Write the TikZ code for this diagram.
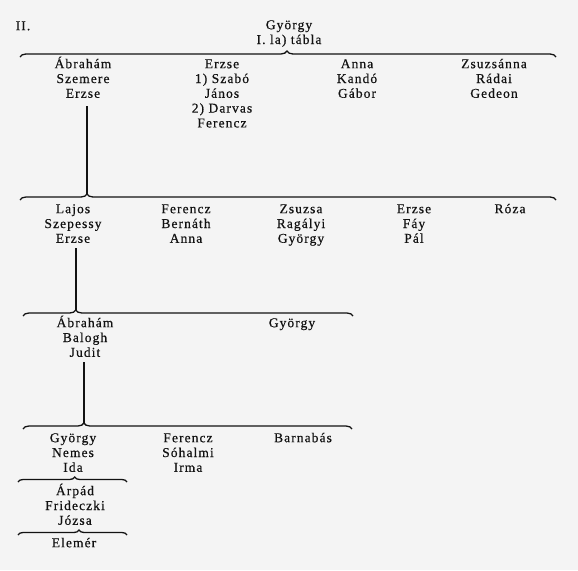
\documentclass[tikz,border=0pt]{standalone}
\usepackage{fontspec}
\setmainfont[LetterSpace=8,FakeBold=0.5]{Liberation Serif}
\usetikzlibrary{decorations.pathreplacing}
\definecolor{bg}{RGB}{244,244,244}
\definecolor{ink}{RGB}{18,18,18}
\newcommand\pfont{\fontsize{13.5}{14.8}\selectfont}
\newcommand\fl{\rule{0pt}{12.5pt}}
\begin{document}
\begin{tikzpicture}[x=1pt,y=-1pt,
  person/.style={anchor=north,inner sep=0pt,align=center,font=\pfont,text=ink},
  famline/.style={draw=ink,line width=1.3pt,decorate},
  stem/.style={draw=ink,line width=1.7pt}]
\fill[bg] (0,0) rectangle (578,570);
\useasboundingbox (0,0) rectangle (578,570);

% title
\node[person] (num) at (23,17.5) {\fl II.};
\node[person] (root) at (289,16.5) {\fl György\\I. la) tábla};

% brace 1
\coordinate (b1l) at (20,57);
\coordinate (b1r) at (556,57);
\draw[famline,decoration={brace,amplitude=6pt,aspect=0.498}] (b1l) -- (b1r);

% level 1
\node[person] (a1) at (83,55.5) {\fl Ábrahám\\Szemere\\Erzse};
\node[person] (e1) at (222,55.5) {\fl Erzse\\1) Szabó\\János\\2) Darvas\\Ferencz};
\node[person] (n1) at (357,55.5) {\fl Anna\\Kandó\\Gábor};
\node[person] (z1) at (494,55.5) {\fl Zsuzsánna\\Rádai\\Gedeon};

% brace 2
\coordinate (b2l) at (20,200);
\coordinate (b2r) at (556,200);
\coordinate (t2) at (87,194);
\draw[famline,decoration={brace,amplitude=6pt,aspect=0.125}] (b2l) -- (b2r);
\draw[stem] ([yshift=-8pt]a1.south -| t2) -- (t2);

% level 2
\node[person] (l2) at (73,200.5) {\fl Lajos\\Szepessy\\Erzse};
\node[person] (f2) at (186,200.5) {\fl Ferencz\\Bernáth\\Anna};
\node[person] (zs2) at (301,200.5) {\fl Zsuzsa\\Ragályi\\György};
\node[person] (er2) at (414,200.5) {\fl Erzse\\Fáy\\Pál};
\node[person] (r2) at (510,200.5) {\fl Róza};

% brace 3
\coordinate (b3l) at (23,316);
\coordinate (b3r) at (353,316);
\coordinate (t3) at (76,310);
\draw[famline,decoration={brace,amplitude=6pt,aspect=0.16}] (b3l) -- (b3r);
\draw[stem] ([yshift=-5pt]l2.south -| t3) -- (t3);

% level 3
\node[person] (a3) at (85,314.5) {\fl Ábrahám\\Balogh\\Judit};
\node[person] (g3) at (292,314.5) {\fl György};

% brace 4
\coordinate (b4l) at (23,429);
\coordinate (b4r) at (352,429);
\coordinate (t4) at (84,423);
\draw[famline,decoration={brace,amplitude=6pt,aspect=0.185}] (b4l) -- (b4r);
\draw[stem] ([yshift=-5pt]a3.south -| t4) -- (t4);

% level 4
\node[person] (g4) at (73,429.5) {\fl György\\Nemes\\Ida};
\node[person] (f4) at (188,429.5) {\fl Ferencz\\Sóhalmi\\Irma};
\node[person] (b4) at (303,429.5) {\fl Barnabás};

% brace 5
\coordinate (b5l) at (18,482);
\coordinate (b5r) at (127,482);
\draw[famline,decoration={brace,amplitude=5pt,aspect=0.52}] (b5l) -- (b5r);

% level 5
\node[person] (a5) at (75,482.5) {\fl Árpád\\Frideczki\\Józsa};

% brace 6
\coordinate (b6l) at (18,535);
\coordinate (b6r) at (127,535);
\draw[famline,decoration={brace,amplitude=5pt,aspect=0.56}] (b6l) -- (b6r);

% level 6
\node[person] (e6) at (74,534.5) {\fl Elemér};
\end{tikzpicture}
\end{document}
